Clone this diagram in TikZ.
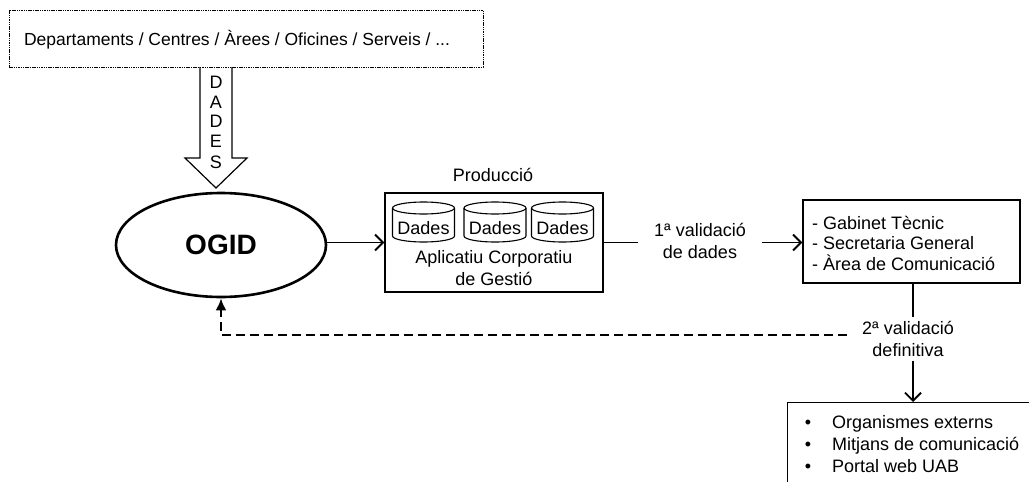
\documentclass[tikz,border=0pt]{standalone}
\usepackage{fontspec}
\setmainfont{Liberation Sans}
\usetikzlibrary{shapes.geometric,arrows.meta}
\begin{document}
\begin{tikzpicture}[x=1pt,y=-1pt,
  txt/.style={font=\fontsize{18}{21.5}\selectfont, inner sep=0pt, align=center},
  line/.style={txt, text height=13pt, text depth=4pt},
  boxline/.style={draw, line width=1.2pt},
  cyl/.style={line width=1.1pt},
  conn/.style={line width=1.9pt},
  barb/.style={-{Straight Barb[length=8pt,width=16pt,line width=1.9pt]}},
  back/.style={line width=2.4pt, dash pattern=on 9pt off 5pt, -{Latex[length=12pt,width=11pt]}}]
\useasboundingbox (0,0) rectangle (1029,482);
\clip (0,0) rectangle (1029,482);

% top source box
\node[draw, line width=0.9pt, dash pattern=on 1.5pt off 0.8pt, minimum width=474, minimum height=57, inner sep=0pt] (src) at (246,38.5) {};
\node[txt, font=\fontsize{17.5}{20}\selectfont] (srct) at (237,40) {Departaments / Centres / Àrees / Oficines / Serveis / ...};

% DADES arrow
\draw[line width=1.2pt, line join=miter] (200,67) -- (200,158) -- (185,158) -- (216,188) -- (247,158) -- (232,158) -- (232,67);
\foreach \ch/\yy/\nm in {D/82/d1,A/102/d2,D/121/d3,E/141/d4,S/162/d5}
  \node[txt] (\nm) at (216,\yy) {\ch};

% OGID
\node[ellipse, draw, line width=2.6pt, minimum width=210, minimum height=104, inner sep=0pt,
      font=\fontsize{28}{30}\selectfont\bfseries] (ogid) at (221,245) {OGID};

% Produccio box
\node[txt] (prodl) at (493,175) {Producció};
\node[boxline, minimum width=218, minimum height=99, inner sep=0pt] (prod) at (494,242.5) {};
\foreach \cx/\nm in {423.5/c1,495/c2,562.5/c3}{
  \draw[cyl] (\cx-31,208) -- (\cx-31,236) arc[start angle=180,end angle=0,x radius=31,y radius=6] -- (\cx+31,208);
  \draw[cyl] (\cx,208) ellipse[x radius=31,y radius=6];
  \node[txt] (\nm) at (\cx,228) {Dades};
}
\node[txt] (apl) at (494,268) {Aplicatiu Corporatiu\\de Gestió};

% OGID -> Produccio
\draw[conn, barb] (ogid.east |- prod.west) -- (prod.west);

% 1a validacio
\node[txt, inner xsep=16pt] (val1) at (700,241) {1ª validació\\de dades};
\draw[conn] (prod.east) -- (val1.west |- prod.east);

% right box
\node[boxline, minimum width=217, minimum height=83, inner sep=0pt] (rbox) at (911.5,241.5) {};
\node[txt, align=left, anchor=west, font=\fontsize{18}{20.5}\selectfont] (rtext) at (812,243) {- Gabinet Tècnic\\- Secretaria General\\- Àrea de Comunicació};
\draw[conn, barb] (val1.east |- prod.east) -- (rbox.west |- prod.east);

% 2a validacio
\node[txt, inner xsep=15pt, inner ysep=4pt] (val2) at (908,339) {2ª validació\\definitiva};
\draw[conn] (rbox.south -| 913,0) -- (913,0 |- val2.north);

% output box
\node[boxline, minimum width=260, minimum height=100, inner sep=0pt, anchor=north west] (out) at (787,402) {};
\draw[conn, barb] (913,0 |- val2.south) -- (913,0 |- out.north);
\foreach \yy/\t/\nm in {424/Organismes externs/o1, 446/Mitjans de comunicació/o2, 468/Portal web UAB/o3}{
  \node[line] (\nm b) at (808,\yy) {\textbullet};
  \node[line, anchor=west] (\nm) at (832,\yy) {\t};
}

% feedback dashed arrow
\draw[back] ([yshift=4pt]val2.west) -| (ogid.south);
\end{tikzpicture}
\end{document}
